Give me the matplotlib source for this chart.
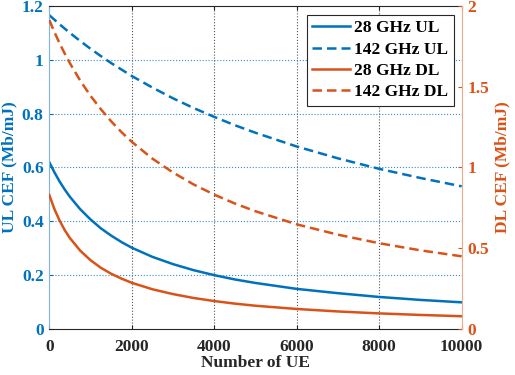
import matplotlib
matplotlib.use("Agg")
import matplotlib.pyplot as plt

plt.rcParams['font.family'] = ['Liberation Serif', 'DejaVu Serif']
plt.rcParams['font.weight'] = 'bold'

num_ue = [0, 125, 250, 375, 500, 750, 1000, 1250, 1500, 1750, 2000, 2500, 3000,
          3500, 4000, 4500, 5000, 6000, 7000, 8000, 9000, 10000]
ul_28 = [0.620, 0.582, 0.548, 0.518, 0.491, 0.445, 0.407, 0.374, 0.347, 0.323,
         0.302, 0.268, 0.241, 0.2185, 0.200, 0.184, 0.171, 0.149, 0.133, 0.119,
         0.108, 0.099]
ul_142 = [1.166, 1.149, 1.132, 1.116, 1.100, 1.070, 1.041, 1.014, 0.988, 0.964,
          0.940, 0.897, 0.857, 0.821, 0.788, 0.757, 0.729, 0.678, 0.634, 0.595,
          0.561, 0.530]
dl_28 = [0.830, 0.742, 0.671, 0.612, 0.563, 0.485, 0.426, 0.379, 0.342, 0.312,
         0.286, 0.246, 0.216, 0.192, 0.173, 0.157, 0.144, 0.124, 0.1085, 0.0965,
         0.087, 0.079]
dl_142 = [1.913, 1.838, 1.769, 1.705, 1.646, 1.538, 1.444, 1.361, 1.286, 1.219,
          1.159, 1.055, 0.969, 0.895, 0.832, 0.777, 0.729, 0.648, 0.584, 0.531,
          0.487, 0.450]

x_ticks = [0, 2000, 4000, 6000, 8000, 10000]
ul_ticks = [0, 0.2, 0.4, 0.6, 0.8, 1.0, 1.2]
ul_tick_labels = ['0', '0.2', '0.4', '0.6', '0.8', '1', '1.2']
dl_ticks = [0, 0.5, 1.0, 1.5, 2.0]
dl_tick_labels = ['0', '0.5', '1', '1.5', '2']

BLUE = '#0072BD'
ORANGE = '#D95319'
FS = 12.5

fig = plt.figure(figsize=(5.15, 3.75), dpi=100)
ax = fig.add_axes([0.0957, 0.1227, 0.8008, 0.8613])
ax2 = ax.twinx()

DASH = (0, (3.8, 2.0))
l1, = ax.plot(num_ue, ul_28, color=BLUE, lw=1.8, label='28 GHz UL')
l2, = ax.plot(num_ue, ul_142, color=BLUE, lw=1.8, ls=DASH, label='142 GHz UL')
l3, = ax2.plot(num_ue, dl_28, color=ORANGE, lw=1.8, label='28 GHz DL')
l4, = ax2.plot(num_ue, dl_142, color=ORANGE, lw=1.8, ls=DASH, label='142 GHz DL')

ax.set_xlim(0, 10000)
ax.set_ylim(0, 1.2)
ax2.set_ylim(0, 2)
ax.set_xticks(x_ticks)
ax.set_xticklabels([str(t) for t in x_ticks], fontsize=FS, fontweight='bold', color='#262626')
ax.set_yticks(ul_ticks)
ax.set_yticklabels(ul_tick_labels, fontsize=FS, fontweight='bold', color=BLUE)
ax2.set_yticks(dl_ticks)
ax2.set_yticklabels(dl_tick_labels, fontsize=FS, fontweight='bold', color=ORANGE)

ax.tick_params(axis='x', direction='in', top=True, length=3, color='#262626', pad=7)
ax.tick_params(axis='y', direction='in', length=3, color=BLUE, pad=4)
ax2.tick_params(axis='y', direction='in', length=3, color=ORANGE, pad=4)

# grids
for xv in x_ticks[1:-1]:
    ax.axvline(xv, color='#555555', ls=':', lw=0.8, zorder=0)
for yv in ul_ticks[1:-1]:
    ax.axhline(yv, color=BLUE, ls=':', lw=0.8, alpha=0.8, zorder=0)

for sp in ['top', 'bottom']:
    ax.spines[sp].set_color('#262626')
    ax.spines[sp].set_linewidth(0.8)
ax.spines['left'].set_color('#7fb4e0')
ax2.spines['left'].set_visible(False)
ax2.spines['top'].set_visible(False)
ax2.spines['bottom'].set_visible(False)
ax.spines['right'].set_visible(False)
ax2.spines['right'].set_color('#f0a88a')

ax.set_xlabel('Number of UE', fontsize=FS, fontweight='bold', color='#262626', labelpad=0)
ax.set_ylabel('UL CEF (Mb/mJ)', fontsize=FS, fontweight='bold', color=BLUE, labelpad=3)
ax2.set_ylabel('DL CEF (Mb/mJ)', fontsize=FS, fontweight='bold', color=ORANGE, labelpad=4)

leg = ax2.legend(handles=[l1, l2, l3, l4], loc='upper right',
                 bbox_to_anchor=(0.9805, 0.972), fancybox=False, framealpha=1,
                 edgecolor='#262626', prop={'weight': 'bold', 'size': FS},
                 handlelength=2.2, handletextpad=0.25, labelspacing=0.3,
                 borderpad=0.3, borderaxespad=0)
leg.get_frame().set_linewidth(0.8)

fig.savefig('out.png', dpi=100)
